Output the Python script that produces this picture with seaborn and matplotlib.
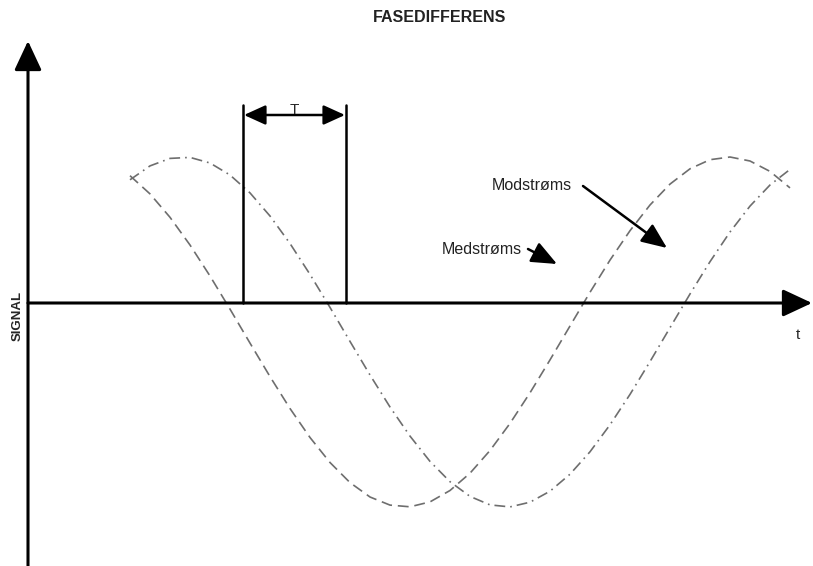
import seaborn as sns
import pandas as pd
import matplotlib.pyplot as plt

# sample positions along t (same units as the drawing, 0..813)
t = [130, 150, 170, 190, 210, 230, 250, 270, 290, 310, 330, 350, 370, 390, 410,
     430, 450, 470, 490, 510, 530, 550, 570, 590, 610, 630, 650, 670, 690, 710,
     730, 750, 770, 790]

# signal (positive = above the t axis)
medstroms = [127.3, 109.1, 85.7, 58.0, 27.0, -6.1, -40.1, -73.6, -105.5, -134.5,
             -159.5, -179.6, -194.0, -202.1, -203.8, -198.9, -187.5, -170.2, -147.5,
             -120.4, -89.8, -56.9, -23.0, 10.7, 42.9, 72.3, 98.0, 118.9, 134.2,
             143.3, 146.0, 142.0, 131.6, 115.1]
modstroms = [123.2, 137.1, 144.6, 145.6, 140.0, 128.0, 110.1, 87.0, 59.5, 28.6,
             -4.4, -38.4, -72.0, -104.0, -133.1, -158.4, -178.7, -193.4, -201.9,
             -203.9, -199.2, -188.2, -171.2, -148.8, -121.8, -91.4, -58.6, -24.7,
             9.0, 41.3, 71.0, 96.9, 118.0, 133.6]

df = pd.DataFrame({
    't': t + t,
    'signal': medstroms + modstroms,
    'retning': ['Medstrøms'] * len(t) + ['Modstrøms'] * len(t),
})

sns.set_style('white')
plt.rcParams['font.family'] = ['Liberation Sans', 'DejaVu Sans']

fig = plt.figure(figsize=(8.13, 5.66), dpi=100)
ax = fig.add_axes([0, 0, 1, 1])
ax.set_xlim(0, 813)
ax.set_ylim(-263, 303)
ax.axis('off')

sns.lineplot(data=df, x='t', y='signal', style='retning',
             dashes={'Medstrøms': (6.5, 3.5), 'Modstrøms': (6.5, 3, 1, 3)},
             color='#6e6e6e', lw=1.2, legend=False, sort=False, ax=ax)

# axes with arrow heads
axis_arrow = dict(arrowstyle='-|>,head_length=0.9,head_width=0.42',
                  mutation_scale=20, lw=2.2, color='black', shrinkA=0, shrinkB=0)
ax.annotate('', xy=(812, 0), xytext=(28, 0), arrowprops=axis_arrow)
ax.annotate('', xy=(28, 262), xytext=(28, -263), arrowprops=axis_arrow)

# phase difference marker
ax.plot([243, 243], [198, 0], color='black', lw=1.8)
ax.plot([346, 346], [198, 0], color='black', lw=1.8)
ax.annotate('', xy=(345, 188), xytext=(244, 188),
            arrowprops=dict(arrowstyle='<|-|>,head_length=1.1,head_width=0.5',
                            mutation_scale=12, lw=1.8, color='black',
                            shrinkA=0, shrinkB=0))
ax.text(294, 186, 'T', ha='center', va='bottom', fontsize=11)

# labels
ax.text(492, 303 - 185, 'Modstrøms', ha='left', va='center', fontsize=11.5, color='#222222')
ax.annotate('', xy=(667, 303 - 248), xytext=(583, 303 - 186),
            arrowprops=dict(arrowstyle='-|>,head_length=1.3,head_width=0.55',
                            mutation_scale=12, lw=1.8, color='black',
                            shrinkA=0, shrinkB=0))
ax.text(442, 303 - 250, 'Medstrøms', ha='left', va='center', fontsize=11.5, color='#222222')
ax.annotate('', xy=(557, 303 - 264), xytext=(528, 303 - 249),
            arrowprops=dict(arrowstyle='-|>,head_length=1.3,head_width=0.55',
                            mutation_scale=12, lw=1.8, color='black',
                            shrinkA=0, shrinkB=0))

ax.text(18, 303 - 316, 'SIGNAL', rotation=90, ha='center', va='center',
        fontsize=9.5, weight='bold')
ax.text(798, 303 - 335, 't', ha='center', va='center', fontsize=11)
fig.text(440 / 813, 1 - 17 / 566, 'FASEDIFFERENS', ha='center', va='center',
         fontsize=11.5, weight='bold', color='#222222')

fig.savefig('out.png', dpi=100)
